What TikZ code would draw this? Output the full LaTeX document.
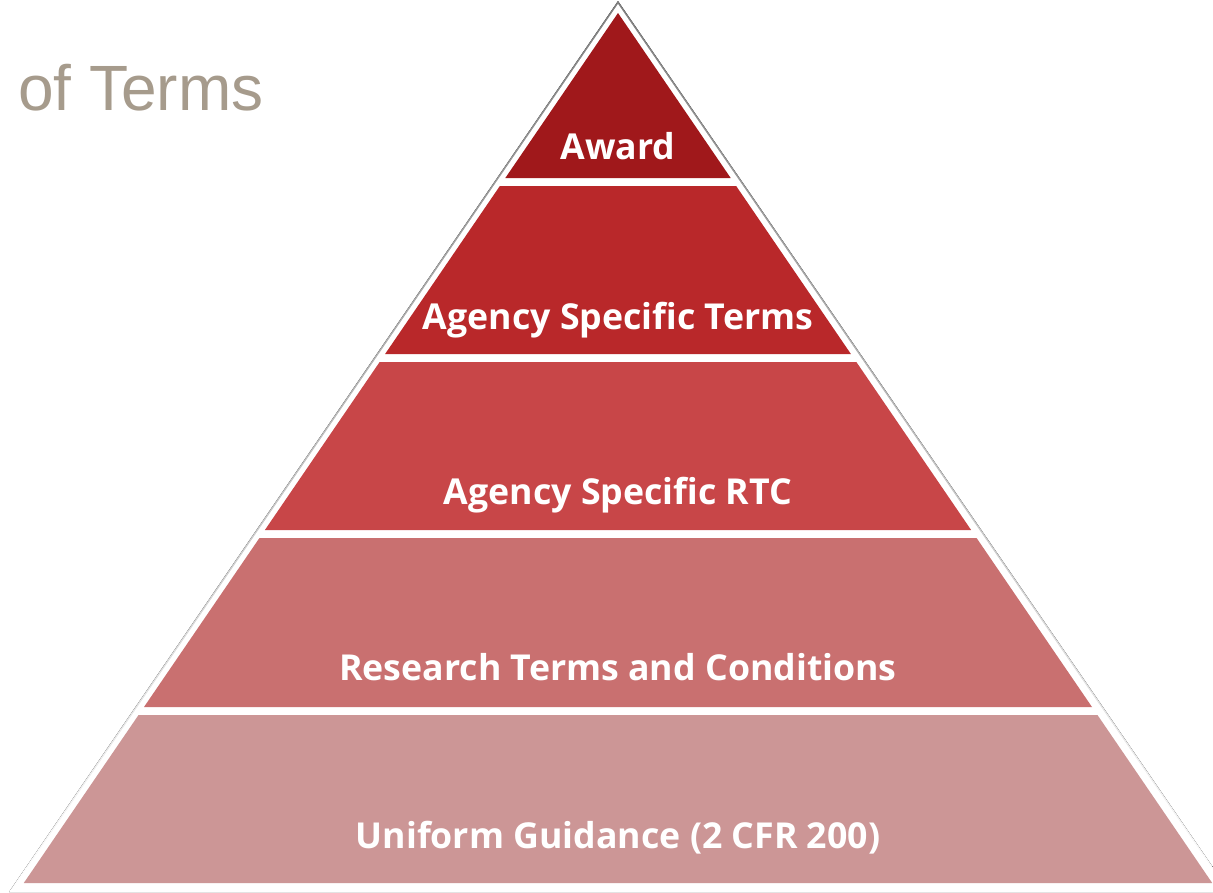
\documentclass[tikz,border=0pt]{standalone}
\usepackage{fontspec}
\newfontfamily\lblfont{Open Sans}
\newfontfamily\ttlfont{Liberation Sans}
\definecolor{cA}{RGB}{160,24,27}
\definecolor{cB}{RGB}{185,40,42}
\definecolor{cC}{RGB}{200,70,72}
\definecolor{cD}{RGB}{201,112,112}
\definecolor{cE}{RGB}{204,150,150}
\definecolor{ttl}{RGB}{166,155,140}
\definecolor{shade}{RGB}{236,236,236}
\tikzset{
  lbl/.style={text=white, font=\lblfont\bfseries\fontsize{35.7}{40}\selectfont, anchor=center, inner sep=0pt},
}
\newcommand{\XL}[1]{{618-0.683*(#1-13)}}
\newcommand{\XR}[1]{{618+0.683*(#1-13)}}
\begin{document}
\begin{tikzpicture}[x=1pt,y=-1pt]
\useasboundingbox (0,0) rectangle (1213,892);
% outer white triangle with faint shadow
\fill[shade] (618,1) -- (9,892) -- (1230,892) -- cycle;
\fill[white] (618,4) -- (13,889) -- (1226,889) -- cycle;
% layers
\fill[cA] (618,13) -- (\XL{178},178) -- (\XR{178},178) -- cycle;
\fill[cB] (\XL{186},186) -- (\XR{186},186) -- (\XR{354},354) -- (\XL{354},354) -- cycle;
\fill[cC] (\XL{362},362) -- (\XR{362},362) -- (\XR{530},530) -- (\XL{530},530) -- cycle;
\fill[cD] (\XL{538},538) -- (\XR{538},538) -- (\XR{707},707) -- (\XL{707},707) -- cycle;
\fill[cE] (\XL{715},715) -- (\XR{715},715) -- (\XR{883},883) -- (\XL{883},883) -- cycle;
% labels
\node[lbl] (award) at (618,146) {Award};
\node[lbl] (ast) at (618,320) {Agency Specific Terms};
\node[lbl] (artc) at (618,495) {Agency Specific RTC};
\node[lbl] (rtc) at (618,667) {Research Terms and Conditions};
\node[lbl] (ug) at (618,838) {Uniform Guidance (2 CFR 200)};
% title fragment
\node[anchor=west, inner sep=0pt, text=ttl, font=\ttlfont\fontsize{64}{70}\selectfont] (title) at (18,88) {of Terms};
\end{tikzpicture}
\end{document}
